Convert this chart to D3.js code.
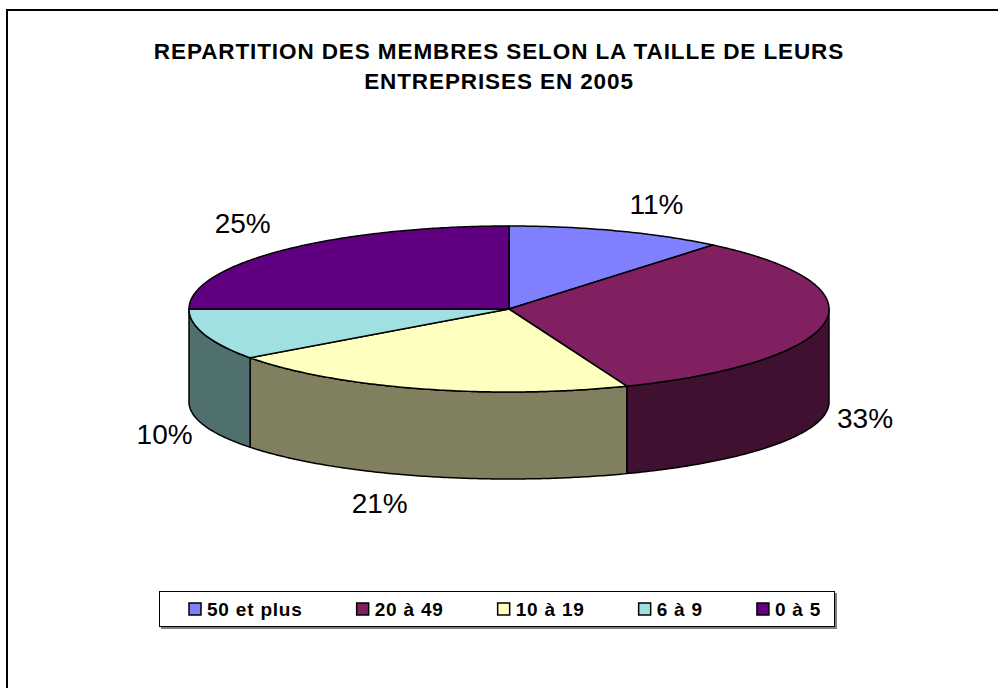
<!DOCTYPE html>
<html lang="fr">
<head>
<meta charset="utf-8">
<title>Repartition des membres</title>
<script src="https://d3js.org/d3.v7.min.js"></script>
<style>
  body { margin: 0; background: #fff; }
  text { font-family: "Liberation Sans", Arial, Helvetica, sans-serif; }
</style>
</head>
<body>
<script>
    // chart data
    const categories = ["50 et plus", "20 à 49", "10 à 19", "6 à 9", "0 à 5"];
    const values = [11, 33, 21, 10, 25];
    const labels = ["11%", "33%", "21%", "10%", "25%"];
    const colors = ["#8080FF", "#802060", "#FFFFC0", "#A0E0E0", "#600080"];
    const titleLines = ["REPARTITION DES MEMBRES SELON LA TAILLE DE LEURS", "ENTREPRISES EN 2005"];

    const width = 998, height = 688;
    // 3d pie geometry (top ellipse, bottom ellipse)
    const cx = 509, cy = 309, rx = 320, ry = 83;
    const cyb = cy + 93, ryb = 77;

    var svg = d3.select("body").append("svg")
        .attr("width", width)
        .attr("height", height);

    // outer frame
    svg.append("rect")
        .attr("x", 7).attr("y", 10)
        .attr("width", 1000).attr("height", 700)
        .attr("fill", "none")
        .attr("stroke", "#000")
        .attr("stroke-width", 2);

    // title
    svg.append("g").selectAll("text")
        .data(titleLines)
        .enter().append("text")
        .attr("x", 499)
        .attr("y", (d, i) => 59 + i * 30)
        .attr("text-anchor", "middle")
        .style("font-size", "22.5px")
        .style("font-weight", "bold")
        .style("letter-spacing", "0.9px")
        .text(d => d);

    var data = categories.map((c, i) => ({name: c, value: values[i], color: colors[i], label: labels[i]}));
    var arcs = d3.pie().sort(null).value(d => d.value)(data);

    function topPt(t) { return [cx + rx * Math.sin(t), cy - ry * Math.cos(t)]; }
    function botPt(t) { return [cx + rx * Math.sin(t), cyb - ryb * Math.cos(t)]; }
    function sample(a0, a1) {
        var n = Math.max(2, Math.ceil((a1 - a0) / 0.01));
        return d3.range(n + 1).map(i => a0 + (a1 - a0) * i / n);
    }
    function half(c) {
        var r = d3.rgb(c);
        return d3.rgb(r.r * 0.5, r.g * 0.5, r.b * 0.5).formatHex();
    }
    var line = d3.line();

    var pieG = svg.append("g")
        .attr("stroke", "#000")
        .attr("stroke-width", 1.5)
        .attr("stroke-linejoin", "round");

    // visible side walls (front half)
    arcs.forEach(a => {
        var s0 = Math.max(a.startAngle, Math.PI / 2),
            s1 = Math.min(a.endAngle, 3 * Math.PI / 2);
        if (s1 <= s0) return;
        var ts = sample(s0, s1);
        var pts = ts.map(topPt).concat(ts.slice().reverse().map(botPt));
        pieG.append("path")
            .attr("d", line(pts) + "Z")
            .attr("fill", half(a.data.color));
    });

    // top faces
    pieG.selectAll(".top")
        .data(arcs)
        .enter().append("path")
        .attr("class", "top")
        .attr("fill", d => d.data.color)
        .attr("d", d => line([[cx, cy]].concat(sample(d.startAngle, d.endAngle).map(topPt))) + "Z");

    // percentage labels
    svg.append("g").selectAll("text")
        .data(arcs)
        .enter().append("text")
        .each(function (d) {
            var m = (d.startAngle + d.endAngle) / 2,
                s = Math.sin(m), c = Math.cos(m);
            var p = c >= 0 ? topPt(m) : botPt(m);
            var anchor = s > 0.1 ? "start" : (s < -0.1 ? "end" : "middle");
            var dx = s > 0.1 ? 12 : (s < -0.1 ? -12 : 0);
            var dy = c > 0.5 ? -17 : 10 - 28 * c;
            d3.select(this)
                .attr("x", p[0] + dx)
                .attr("y", p[1] + dy)
                .attr("text-anchor", anchor);
        })
        .style("font-size", "28px")
        .text(d => d.data.label);

    // legend
    var legend = svg.append("g");
    legend.append("rect")
        .attr("x", 161).attr("y", 593)
        .attr("width", 676).attr("height", 36)
        .attr("fill", "#808080");
    legend.append("rect")
        .attr("x", 159.5).attr("y", 591.5)
        .attr("width", 675).attr("height", 35)
        .attr("fill", "#fff")
        .attr("stroke", "#000")
        .attr("stroke-width", 1);

    var xPos = 189;
    data.forEach(d => {
        legend.append("rect")
            .attr("x", xPos).attr("y", 603)
            .attr("width", 12).attr("height", 12)
            .attr("fill", d.color)
            .attr("stroke", "#000")
            .attr("stroke-width", 1.5);
        var t = legend.append("text")
            .attr("x", xPos + 18)
            .attr("y", 615.5)
            .style("font-size", "19px")
            .style("font-weight", "bold")
            .style("letter-spacing", "0.8px")
            .text(d.name);
        xPos += 18 + t.node().getComputedTextLength() + 54;
    });
</script>
</body>
</html>
